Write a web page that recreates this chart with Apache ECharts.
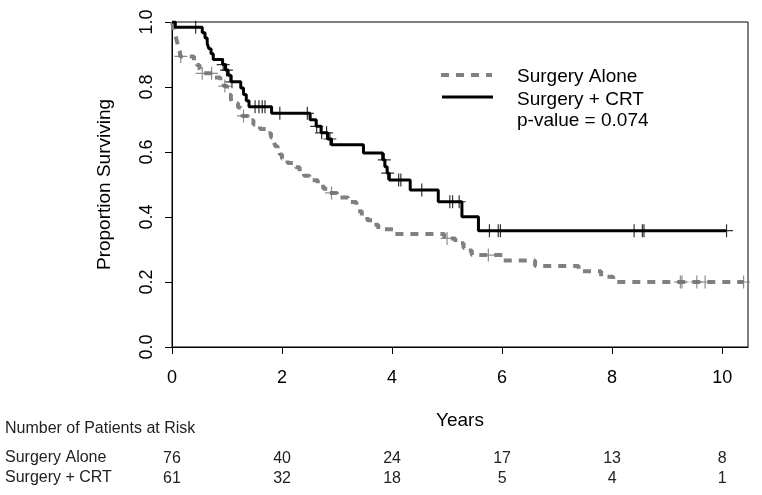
<!DOCTYPE html>
<html>
<head>
<meta charset="utf-8">
<script src="https://cdn.jsdelivr.net/npm/echarts@6/dist/echarts.min.js"></script>
<style>html,body{margin:0;padding:0;background:#fff;}#c{width:762px;height:495px;}</style>
</head>
<body>
<div id="c"></div>
<script>
// ---- data ----
var aloneTimes = [0, 0.02, 0.04, 0.06, 0.08, 0.10, 0.12, 0.14, 0.15, 0.40, 0.45, 0.50, 0.53, 0.78, 0.88, 0.94, 1.00, 1.03, 1.07, 1.10, 1.20, 1.25, 1.28, 1.40, 1.48, 1.60, 1.72, 1.80, 1.85, 1.88, 1.92, 1.96, 2.00, 2.10, 2.25, 2.32, 2.40, 2.50, 2.65, 2.75, 2.85, 3.00, 3.20, 3.35, 3.38, 3.45, 3.55, 3.65, 3.75, 4.05, 4.95, 5.15, 5.30, 5.38, 5.45, 6.03, 6.60, 7.39, 7.80, 8.02, 10.39];
var aloneSurv  = [1.0, 0.987, 0.974, 0.961, 0.947, 0.934, 0.921, 0.908, 0.894, 0.881, 0.868, 0.855, 0.842, 0.829, 0.816, 0.803, 0.789, 0.776, 0.763, 0.750, 0.737, 0.724, 0.711, 0.698, 0.685, 0.671, 0.658, 0.645, 0.631, 0.618, 0.605, 0.592, 0.579, 0.566, 0.553, 0.540, 0.527, 0.513, 0.500, 0.487, 0.474, 0.460, 0.446, 0.432, 0.418, 0.404, 0.390, 0.376, 0.362, 0.348, 0.334, 0.319, 0.305, 0.297, 0.283, 0.266, 0.249, 0.233, 0.216, 0.200, 0.200];
var aloneCensor = [0.16, 0.55, 0.72, 0.96, 1.30, 2.90, 5.00, 5.75, 9.24, 9.27, 9.54, 9.69, 10.39];

var crtTimes = [0, 0.06, 0.55, 0.60, 0.64, 0.67, 0.71, 0.75, 0.92, 0.97, 1.02, 1.07, 1.25, 1.30, 1.35, 1.40, 1.81, 2.51, 2.62, 2.71, 2.83, 2.90, 3.48, 3.83, 3.87, 3.91, 3.95, 4.33, 4.84, 5.27, 5.57, 10.08];
var crtSurv  = [1.0, 0.984, 0.967, 0.951, 0.934, 0.918, 0.902, 0.885, 0.869, 0.852, 0.836, 0.816, 0.797, 0.777, 0.758, 0.739, 0.719, 0.699, 0.679, 0.659, 0.640, 0.622, 0.597, 0.576, 0.555, 0.535, 0.514, 0.483, 0.447, 0.401, 0.358, 0.358];
var crtCensor = [0.43, 0.93, 0.99, 1.09, 1.51, 1.58, 1.64, 1.69, 1.96, 2.46, 2.63, 2.72, 2.81, 2.87, 3.86, 3.92, 4.12, 4.16, 4.54, 5.05, 5.10, 5.22, 5.77, 5.93, 5.97, 8.40, 8.55, 8.58, 10.08];

var riskYears = [0, 2, 4, 6, 8, 10];
var riskAlone = [76, 40, 24, 17, 13, 8];
var riskCRT   = [61, 32, 18, 5, 4, 1];

var yTicks = [0, 0.2, 0.4, 0.6, 0.8, 1.0];
var xTicks = [0, 2, 4, 6, 8, 10];

var seriesNames = ['Surgery Alone', 'Surgery + CRT'];
var pValueText = 'p-value = 0.074';
var riskTitle = 'Number of Patients at Risk';

// ---- helpers ----
function pairs(t, s) { return t.map(function (v, i) { return [v, s[i]]; }); }
function survAt(t, times, surv) {
  var v = surv[0];
  for (var i = 0; i < times.length; i++) { if (times[i] <= t) v = surv[i]; }
  return v;
}
function censorPts(c, times, surv) { return c.map(function (t) { return [t, survAt(t, times, surv)]; }); }

var FONT = '"Liberation Sans", Arial, sans-serif';
var plus = 'path://M0,-1L0,1M-1,0L1,0';

var chart = echarts.init(document.getElementById('c'), null, { renderer: 'canvas' });

function riskAxis(offset, arr) {
  return {
    type: 'value', min: 0, max: 10.47, position: 'bottom', offset: offset,
    axisLine: { show: false }, axisTick: { show: false }, splitLine: { show: false },
    axisLabel: {
      customValues: riskYears, margin: 4, fontSize: 16, color: '#222', fontFamily: FONT,
      formatter: function (v) { var i = riskYears.indexOf(v); return i >= 0 ? String(arr[i]) : ''; }
    }
  };
}

var option = {
  animation: false,
  backgroundColor: '#fff',
  grid: { left: 172, right: 14, top: 22, bottom: 148, show: true, borderColor: '#000', borderWidth: 1, backgroundColor: 'transparent' },
  xAxis: [
    {
      type: 'value', min: 0, max: 10.47,
      name: 'Years', nameLocation: 'middle', nameGap: 64,
      nameTextStyle: { fontSize: 19, color: '#000', fontFamily: FONT },
      axisLine: { show: true, onZero: false, lineStyle: { color: '#000', width: 1 } },
      axisTick: { show: true, customValues: xTicks, length: 7, lineStyle: { color: '#000' } },
      axisLabel: { customValues: xTicks, margin: 22, fontSize: 18, color: '#000', fontFamily: FONT },
      splitLine: { show: false }
    },
    riskAxis(100, riskAlone),
    riskAxis(120, riskCRT)
  ],
  yAxis: {
    type: 'value', min: 0, max: 1, interval: 0.2,
    name: 'Proportion Surviving', nameLocation: 'middle', nameGap: 58,
    nameTextStyle: { fontSize: 19, color: '#000', fontFamily: FONT },
    axisLine: { show: true, lineStyle: { color: '#000', width: 1 } },
    axisTick: { show: true, length: 7, lineStyle: { color: '#000' } },
    axisLabel: { rotate: 90, margin: 16, fontSize: 18, color: '#000', fontFamily: FONT,
      formatter: function (v) { return v.toFixed(1); } },
    splitLine: { show: false }
  },
  series: [
    { name: seriesNames[0], type: 'line', step: 'end', data: pairs(aloneTimes, aloneSurv), showSymbol: false, symbol: 'none',
      lineStyle: { color: '#808080', width: 4, type: [8, 7] }, z: 2 },
    { name: seriesNames[1], type: 'line', step: 'end', data: pairs(crtTimes, crtSurv), showSymbol: false, symbol: 'none',
      lineStyle: { color: '#000', width: 3 }, z: 3 },
    { type: 'scatter', data: censorPts(aloneCensor, aloneTimes, aloneSurv), symbol: plus, symbolSize: 13,
      itemStyle: { color: 'none', borderColor: '#707070', borderWidth: 1.2 }, z: 4 },
    { type: 'scatter', data: censorPts(crtCensor, crtTimes, crtSurv), symbol: plus, symbolSize: 13,
      itemStyle: { color: 'none', borderColor: '#000', borderWidth: 1.2 }, z: 5 }
  ],
  graphic: [
    { type: 'line', shape: { x1: 441, y1: 75, x2: 492, y2: 75 }, style: { stroke: '#808080', lineWidth: 4, lineDash: [8, 7] } },
    { type: 'line', shape: { x1: 442, y1: 97, x2: 493, y2: 97 }, style: { stroke: '#000', lineWidth: 3 } },
    { type: 'text', left: 517, top: 67, style: { text: seriesNames[0], font: '19px ' + FONT, fill: '#000' } },
    { type: 'text', left: 517, top: 90, style: { text: seriesNames[1], font: '19px ' + FONT, fill: '#000' } },
    { type: 'text', left: 517, top: 111, style: { text: pValueText, font: '19px ' + FONT, fill: '#000' } },
    { type: 'text', left: 5, top: 421, style: { text: riskTitle, font: '16px ' + FONT, fill: '#222' } },
    { type: 'text', left: 5, top: 450, style: { text: seriesNames[0], font: '16px ' + FONT, fill: '#222' } },
    { type: 'text', left: 5, top: 470, style: { text: seriesNames[1], font: '16px ' + FONT, fill: '#222' } }
  ]
};
chart.setOption(option);
</script>
</body>
</html>
